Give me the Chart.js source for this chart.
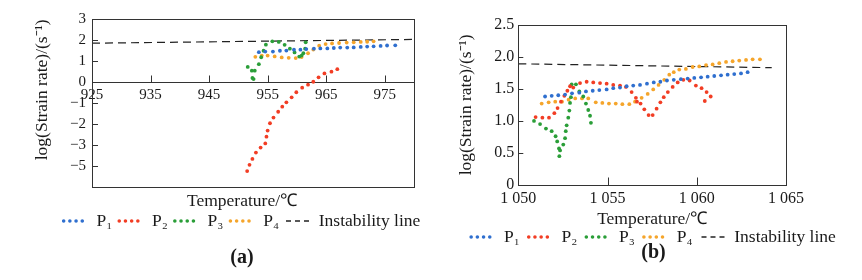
<!DOCTYPE html>
<html>
<head>
<meta charset="utf-8">
<script src="https://cdn.jsdelivr.net/npm/chart.js@4.4.1/dist/chart.umd.min.js"></script>
<style>
  html, body { margin: 0; padding: 0; background: #ffffff; }
  #wrap { position: relative; width: 862px; height: 280px; overflow: hidden; }
  canvas { position: absolute; top: 0; }
  #chartA { left: 0; }
  #chartB { left: 431px; }
</style>
</head>
<body>
<div id="wrap">
  <canvas id="chartA" width="431" height="280"></canvas>
  <canvas id="chartB" width="431" height="280"></canvas>
</div>
<script>
// ---- (a) data ----
const aXTicks = [925, 935, 945, 955, 965, 975];
const aXLabels = ["925", "935", "945", "955", "965", "975"];
const aYTicks = [3, 2, 1, 0, -1, -2, -3, -4];
const aYLabels = ["3", "2", "1", "0", "\u22121", "\u22122", "\u22123", "\u22125"];

const aP1Temp = [953.5, 954.6, 955.9, 957.1, 958.2, 959.5, 960.6, 961.6, 962.9, 964.0, 965.2, 966.3, 967.4, 968.6, 969.7, 970.9, 972.0, 973.1, 974.3, 975.4, 976.8];
const aP1Rate = [1.43, 1.46, 1.46, 1.50, 1.51, 1.55, 1.55, 1.58, 1.60, 1.61, 1.61, 1.63, 1.65, 1.65, 1.66, 1.68, 1.70, 1.71, 1.73, 1.75, 1.76];

const aP2Temp = [951.5, 951.9, 952.4, 953.0, 953.8, 954.6, 954.8, 955.0, 955.4, 956.0, 956.8, 957.5, 958.2, 959.1, 959.9, 960.9, 961.9, 962.8, 963.7, 964.7, 965.9, 966.9];
const aP2Rate = [-4.24, -3.94, -3.66, -3.36, -3.12, -2.92, -2.60, -2.31, -1.96, -1.69, -1.41, -1.17, -0.96, -0.72, -0.48, -0.26, -0.12, 0.02, 0.23, 0.42, 0.50, 0.62];

const aP3Temp = [951.6, 952.3, 952.4, 952.6, 952.8, 953.5, 953.9, 954.3, 954.7, 955.8, 956.9, 957.9, 958.8, 959.6, 960.4, 960.8, 961.1, 961.4, 961.5];
const aP3Rate = [0.73, 0.55, 0.20, 0.15, 0.55, 0.86, 1.19, 1.50, 1.79, 1.95, 1.92, 1.78, 1.60, 1.42, 1.22, 1.27, 1.38, 1.60, 1.90];

const aP4Temp = [952.9, 954.0, 955.0, 956.2, 957.4, 958.6, 959.8, 960.8, 961.9, 962.8, 963.8, 964.9, 966.0, 967.2, 968.5, 969.7, 970.9, 972.0, 973.1];
const aP4Rate = [1.21, 1.27, 1.27, 1.23, 1.18, 1.16, 1.15, 1.20, 1.38, 1.56, 1.74, 1.82, 1.85, 1.87, 1.89, 1.90, 1.92, 1.93, 1.95];

const aInstTemp = [925, 980];
const aInstRate = [1.86, 2.04];

// ---- (b) data ----
const bXTicks = [1050, 1055, 1060, 1065];
const bXLabels = ["1 050", "1 055", "1 060", "1 065"];
const bYTicks = [0, 0.5, 1.0, 1.5, 2.0, 2.5];
const bYLabels = ["0", "0.5", "1.0", "1.5", "2.0", "2.5"];

const bP1Temp = [1051.50, 1051.87, 1052.24, 1052.62, 1053.01, 1053.42, 1053.79, 1054.17, 1054.54, 1054.95, 1055.32, 1055.70, 1056.07, 1056.44, 1056.82, 1057.21, 1057.59, 1057.96, 1058.33, 1058.71, 1059.11, 1059.49, 1059.86, 1060.24, 1060.61, 1060.98, 1061.36, 1061.73, 1062.10, 1062.48, 1062.85];
const bP1Rate = [1.38, 1.39, 1.40, 1.41, 1.43, 1.44, 1.46, 1.47, 1.48, 1.49, 1.51, 1.52, 1.54, 1.55, 1.56, 1.58, 1.60, 1.61, 1.63, 1.64, 1.65, 1.66, 1.67, 1.68, 1.69, 1.70, 1.71, 1.72, 1.73, 1.74, 1.76];

const bP2Temp = [1050.97, 1051.35, 1051.72, 1052.02, 1052.20, 1052.39, 1052.58, 1052.75, 1052.90, 1053.08, 1053.46, 1053.83, 1054.20, 1054.58, 1054.95, 1055.32, 1055.70, 1056.03, 1056.35, 1056.59, 1056.65, 1056.85, 1057.06, 1057.30, 1057.53, 1057.75, 1057.96, 1058.15, 1058.38, 1058.65, 1058.93, 1059.25, 1059.60, 1059.95, 1060.27, 1060.55, 1060.78, 1060.45];
const bP2Rate = [1.06, 1.05, 1.05, 1.12, 1.20, 1.30, 1.39, 1.47, 1.54, 1.52, 1.59, 1.61, 1.60, 1.59, 1.58, 1.56, 1.55, 1.53, 1.45, 1.36, 1.30, 1.27, 1.18, 1.09, 1.09, 1.19, 1.29, 1.37, 1.45, 1.53, 1.60, 1.64, 1.63, 1.55, 1.51, 1.45, 1.38, 1.31];

const bP3Temp = [1050.88, 1051.22, 1051.55, 1051.87, 1052.09, 1052.18, 1052.28, 1052.34, 1052.30, 1052.52, 1052.62, 1052.66, 1052.71, 1052.80, 1052.86, 1052.90, 1052.95, 1052.99, 1053.23, 1053.42, 1053.64, 1053.79, 1053.92, 1054.02, 1054.07];
const bP3Rate = [1.00, 0.95, 0.88, 0.84, 0.76, 0.68, 0.57, 0.54, 0.45, 0.63, 0.73, 0.84, 0.93, 1.05, 1.16, 1.28, 1.37, 1.57, 1.57, 1.46, 1.38, 1.27, 1.17, 1.08, 0.97];

const bP4Temp = [1051.31, 1051.70, 1052.07, 1052.45, 1052.82, 1053.19, 1053.57, 1053.92, 1054.34, 1054.71, 1055.08, 1055.46, 1055.83, 1056.22, 1056.54, 1056.91, 1057.25, 1057.56, 1057.86, 1058.18, 1058.46, 1058.71, 1059.02, 1059.39, 1059.77, 1060.14, 1060.52, 1060.89, 1061.26, 1061.64, 1062.01, 1062.38, 1062.76, 1063.13, 1063.54];
const bP4Rate = [1.27, 1.29, 1.30, 1.30, 1.33, 1.35, 1.35, 1.35, 1.29, 1.28, 1.27, 1.27, 1.26, 1.26, 1.30, 1.36, 1.42, 1.49, 1.56, 1.64, 1.72, 1.76, 1.80, 1.81, 1.84, 1.85, 1.87, 1.88, 1.90, 1.92, 1.93, 1.94, 1.95, 1.96, 1.96];

const bInstTemp = [1050, 1064.2];
const bInstRate = [1.89, 1.83];

const seriesNames = ["P\u2081", "P\u2082", "P\u2083", "P\u2084", "Instability line"];
const seriesColors = ["#2f6fcf", "#f23d24", "#2a9e38", "#f5a52b", "#222222"];

Chart.defaults.font.family = "'Liberation Serif', 'Times New Roman', serif";
Chart.defaults.font.size = 15;
Chart.defaults.color = "#1a1a1a";
Chart.defaults.animation = false;

function pts(xs, ys) {
    return xs.map((x, i) => ({ x: x, y: ys[i] }));
}

function buildDatasets(series, inst) {
    const sets = series.map((s, i) => ({
        label: seriesNames[i],
        data: pts(s[0], s[1]),
        borderColor: seriesColors[i],
        backgroundColor: seriesColors[i],
        pointRadius: 1.9,
        pointBorderWidth: 0,
        showLine: false,
    }));
    sets.push({
        label: seriesNames[4],
        data: pts(inst[0], inst[1]),
        borderColor: seriesColors[4],
        borderWidth: 1.2,
        borderDash: [8, 5],
        pointRadius: 0,
        showLine: true,
    });
    return sets;
}

function legendItems(chart) {
    return chart.data.datasets.map((ds, i) => ({
        text: ds.label,
        fillStyle: ds.borderColor,
        strokeStyle: ds.borderColor,
        fontColor: "#1a1a1a",
        lineWidth: ds.showLine ? 1.3 : 3.6,
        lineDash: ds.showLine ? [5, 4] : [0, 6.2],
        lineCap: ds.showLine ? "butt" : "round",
        pointStyle: "line",
        hidden: false,
        datasetIndex: i,
    }));
}

// box round the plot and short inward tick marks
const framePlugin = {
    id: "frame",
    afterDatasetsDraw(chart, args, opts) {
        const { ctx, chartArea: a, scales } = chart;
        ctx.save();
        ctx.strokeStyle = "#333";
        ctx.lineWidth = 1;
        ctx.setLineDash([]);
        ctx.strokeRect(Math.round(a.left) + 0.5, Math.round(a.top) + 0.5,
            Math.round(a.right - a.left), Math.round(a.bottom - a.top));
        ctx.beginPath();
        const xBase = opts.xAtZero ? Math.round(scales.y.getPixelForValue(0)) + 0.5 : Math.round(a.bottom) + 0.5;
        scales.x.ticks.forEach((t, i) => {
            const px = Math.round(scales.x.getPixelForTick(i)) + 0.5;
            if (px <= a.left + 1 || px >= a.right - 1) return;
            ctx.moveTo(px, xBase);
            ctx.lineTo(px, xBase - opts.xTick);
        });
        scales.y.ticks.forEach((t, i) => {
            const py = Math.round(scales.y.getPixelForTick(i)) + 0.5;
            if (py <= a.top + 1 || py >= a.bottom - 1) return;
            ctx.moveTo(a.left, py);
            ctx.lineTo(a.left + opts.yTick, py);
        });
        ctx.stroke();
        ctx.restore();
    },
};

const hiddenRight = (w) => ({
    position: "right",
    display: true,
    grid: { display: false, drawTicks: false },
    border: { display: false },
    ticks: { display: false },
    afterFit: (s) => { s.width = w; },
});

const legendOpts = (pad) => ({
    display: true,
    position: "bottom",
    labels: {
        usePointStyle: true,
        pointStyleWidth: 24,
        boxHeight: 8,
        padding: pad,
        font: { size: 17.5 },
        generateLabels: legendItems,
    },
});

const configGraficoA = {
    type: "scatter",
    data: {
        datasets: buildDatasets(
            [[aP1Temp, aP1Rate], [aP2Temp, aP2Rate], [aP3Temp, aP3Rate], [aP4Temp, aP4Rate]],
            [aInstTemp, aInstRate]
        ),
    },
    options: {
        responsive: false,
        layout: { padding: { top: 19.3, left: 53, right: 0, bottom: 10 } },
        plugins: {
            legend: legendOpts(7),
            tooltip: { enabled: false },
            subtitle: {
                display: true,
                position: "bottom",
                text: "Temperature/\u2103",
                weight: 500,
                color: "#1a1a1a",
                font: { size: 17.5, weight: "normal" },
                padding: { top: 3.5, bottom: -6.25 },
            },
            title: {
                display: true,
                position: "bottom",
                text: "(a)",
                color: "#1a1a1a",
                font: { size: 20, weight: "bold" },
                padding: { top: 6.25, bottom: 0 },
            },
            frame: { xAtZero: true, xTick: 7, yTick: 6 },
        },
        scales: {
            x: {
                type: "linear",
                min: 925,
                max: 980,
                position: { y: 0 },
                grid: { display: false, drawTicks: false },
                border: { display: true, color: "#333", width: 1 },
                ticks: { padding: 4, autoSkip: false, maxRotation: 0, callback: (v, i) => aXLabels[i] },
                afterBuildTicks: (s) => { s.ticks = aXTicks.map((v) => ({ value: v })); },
            },
            y: {
                type: "linear",
                position: "left",
                min: -5,
                max: 3,
                grid: { display: false, drawTicks: false },
                border: { display: false },
                ticks: { padding: 6, autoSkip: false, callback: (v, i) => aYLabels[i] },
                afterBuildTicks: (s) => { s.ticks = aYTicks.map((v) => ({ value: v })); },
                afterFit: (s) => { s.width = 39; },
                title: {
                    display: true,
                    text: "log(Strain rate)/(s\u207B\u00B9)",
                    align: "end",
                    padding: { top: -21.5, bottom: 0 },
                    font: { size: 17.5 },
                },
            },
            yr: hiddenRight(17),
        },
    },
    plugins: [framePlugin],
};

const configGraficoB = {
    type: "scatter",
    data: {
        datasets: buildDatasets(
            [[bP1Temp, bP1Rate], [bP2Temp, bP2Rate], [bP3Temp, bP3Rate], [bP4Temp, bP4Rate]],
            [bInstTemp, bInstRate]
        ),
    },
    options: {
        responsive: false,
        layout: { padding: { top: 24.7, left: 14, right: 0, bottom: 15 } },
        plugins: {
            legend: legendOpts(9),
            tooltip: { enabled: false },
            title: {
                display: true,
                position: "bottom",
                text: "(b)",
                color: "#1a1a1a",
                font: { size: 20, weight: "bold" },
                padding: { top: -14.75, bottom: 0 },
            },
            frame: { xAtZero: false, xTick: 8, yTick: 5 },
        },
        scales: {
            x: {
                type: "linear",
                min: 1050,
                max: 1065,
                position: "bottom",
                grid: { display: false, drawTicks: false },
                border: { display: false },
                ticks: { padding: 4.4, autoSkip: false, maxRotation: 0, font: { size: 16 }, callback: (v, i) => bXLabels[i] },
                afterBuildTicks: (s) => { s.ticks = bXTicks.map((v) => ({ value: v })); },
                afterFit: (s) => { s.height = 34.25; },
                title: {
                    display: true,
                    text: "Temperature/\u2103",
                    padding: { top: 0, bottom: -10.25 },
                    font: { size: 17.5 },
                },
            },
            y: {
                type: "linear",
                position: "left",
                min: 0,
                max: 2.5,
                grid: { display: false, drawTicks: false },
                border: { display: false },
                ticks: { padding: 4, autoSkip: false, font: { size: 16 }, callback: (v, i) => bYLabels[i] },
                afterBuildTicks: (s) => { s.ticks = bYTicks.map((v) => ({ value: v })); },
                afterFit: (s) => { s.width = 73.3; },
                title: {
                    display: true,
                    text: "log(Strain rate)/(s\u207B\u00B9)",
                    padding: { top: 10.5, bottom: 0 },
                    font: { size: 17.5 },
                },
            },
            yr: hiddenRight(76),
        },
    },
    plugins: [framePlugin],
};

const chartA = new Chart(document.getElementById("chartA"), configGraficoA);
const chartB = new Chart(document.getElementById("chartB"), configGraficoB);
</script>
</body>
</html>
